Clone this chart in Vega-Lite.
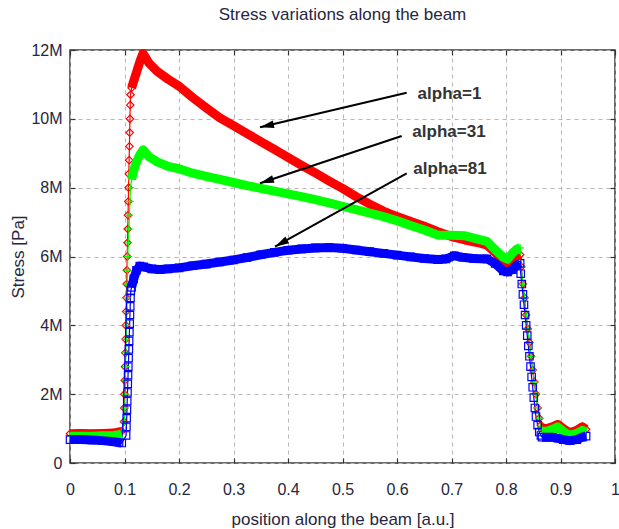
{
  "$schema": "https://vega.github.io/schema/vega-lite/v6.json",
  "width": 545,
  "height": 413,
  "autosize": {"type": "none"},
  "padding": {"left": 70, "top": 50, "right": 4, "bottom": 66},
  "title": {"text": "Stress variations along the beam", "fontSize": 17, "fontWeight": "normal", "color": "#262640", "font": "Liberation Sans", "offset": 18},
  "datasets": {
    "series": [
      {"s":"alpha=1","x":0,"y":850000},{"s":"alpha=1","x":0.02,"y":860000},{"s":"alpha=1","x":0.04,"y":850000},{"s":"alpha=1","x":0.06,"y":860000},{"s":"alpha=1","x":0.08,"y":870000},{"s":"alpha=1","x":0.09,"y":900000},{"s":"alpha=1","x":0.095,"y":920000},
      {"s":"alpha=1","x":0.099,"y":1200000},{"s":"alpha=1","x":0.0995,"y":1600000},{"s":"alpha=1","x":0.1,"y":2000000},{"s":"alpha=1","x":0.1005,"y":2400000},{"s":"alpha=1","x":0.101,"y":2800000},{"s":"alpha=1","x":0.1015,"y":3200000},{"s":"alpha=1","x":0.102,"y":3600000},{"s":"alpha=1","x":0.1025,"y":4000000},{"s":"alpha=1","x":0.103,"y":4400000},{"s":"alpha=1","x":0.1035,"y":4800000},{"s":"alpha=1","x":0.104,"y":5200000},{"s":"alpha=1","x":0.1045,"y":5600000},{"s":"alpha=1","x":0.105,"y":6000000},{"s":"alpha=1","x":0.1055,"y":6400000},{"s":"alpha=1","x":0.106,"y":6800000},{"s":"alpha=1","x":0.1065,"y":7200000},{"s":"alpha=1","x":0.107,"y":7600000},{"s":"alpha=1","x":0.1075,"y":8000000},{"s":"alpha=1","x":0.108,"y":8400000},{"s":"alpha=1","x":0.1085,"y":8800000},{"s":"alpha=1","x":0.109,"y":9200000},{"s":"alpha=1","x":0.1095,"y":9600000},{"s":"alpha=1","x":0.11,"y":10000000},{"s":"alpha=1","x":0.1105,"y":10400000},{"s":"alpha=1","x":0.111,"y":10700000},
      {"s":"alpha=1","x":0.113,"y":10900000},{"s":"alpha=1","x":0.117,"y":11100000},{"s":"alpha=1","x":0.121,"y":11300000},{"s":"alpha=1","x":0.125,"y":11500000},{"s":"alpha=1","x":0.129,"y":11700000},{"s":"alpha=1","x":0.134,"y":11900000},{"s":"alpha=1","x":0.145,"y":11620000},{"s":"alpha=1","x":0.16,"y":11380000},{"s":"alpha=1","x":0.18,"y":11150000},{"s":"alpha=1","x":0.2,"y":10950000},{"s":"alpha=1","x":0.225,"y":10620000},{"s":"alpha=1","x":0.25,"y":10320000},{"s":"alpha=1","x":0.275,"y":10030000},{"s":"alpha=1","x":0.3,"y":9800000},{"s":"alpha=1","x":0.325,"y":9570000},{"s":"alpha=1","x":0.35,"y":9340000},{"s":"alpha=1","x":0.375,"y":9110000},{"s":"alpha=1","x":0.4,"y":8880000},{"s":"alpha=1","x":0.425,"y":8650000},{"s":"alpha=1","x":0.45,"y":8430000},{"s":"alpha=1","x":0.475,"y":8200000},{"s":"alpha=1","x":0.5,"y":7980000},{"s":"alpha=1","x":0.525,"y":7740000},{"s":"alpha=1","x":0.55,"y":7520000},{"s":"alpha=1","x":0.575,"y":7320000},{"s":"alpha=1","x":0.6,"y":7160000},{"s":"alpha=1","x":0.625,"y":7020000},{"s":"alpha=1","x":0.65,"y":6880000},{"s":"alpha=1","x":0.675,"y":6720000},{"s":"alpha=1","x":0.7,"y":6580000},{"s":"alpha=1","x":0.725,"y":6480000},{"s":"alpha=1","x":0.75,"y":6400000},{"s":"alpha=1","x":0.765,"y":6330000},{"s":"alpha=1","x":0.78,"y":6120000},{"s":"alpha=1","x":0.795,"y":5850000},{"s":"alpha=1","x":0.803,"y":5720000},{"s":"alpha=1","x":0.812,"y":5860000},{"s":"alpha=1","x":0.82,"y":6000000},{"s":"alpha=1","x":0.826,"y":6050000},
      {"s":"alpha=1","x":0.828,"y":5700000},{"s":"alpha=1","x":0.831,"y":5200000},{"s":"alpha=1","x":0.834,"y":4800000},{"s":"alpha=1","x":0.837,"y":4300000},{"s":"alpha=1","x":0.84,"y":3900000},{"s":"alpha=1","x":0.843,"y":3500000},{"s":"alpha=1","x":0.846,"y":3100000},{"s":"alpha=1","x":0.849,"y":2700000},{"s":"alpha=1","x":0.852,"y":2350000},{"s":"alpha=1","x":0.855,"y":2000000},{"s":"alpha=1","x":0.858,"y":1600000},{"s":"alpha=1","x":0.861,"y":1300000},{"s":"alpha=1","x":0.864,"y":1100000},
      {"s":"alpha=1","x":0.866,"y":1020000},{"s":"alpha=1","x":0.875,"y":1000000},{"s":"alpha=1","x":0.885,"y":1050000},{"s":"alpha=1","x":0.895,"y":1120000},{"s":"alpha=1","x":0.905,"y":1000000},{"s":"alpha=1","x":0.917,"y":880000},{"s":"alpha=1","x":0.93,"y":950000},{"s":"alpha=1","x":0.94,"y":1050000},{"s":"alpha=1","x":0.947,"y":980000},

      {"s":"alpha=31","x":0,"y":780000},{"s":"alpha=31","x":0.02,"y":780000},{"s":"alpha=31","x":0.04,"y":780000},{"s":"alpha=31","x":0.06,"y":790000},{"s":"alpha=31","x":0.08,"y":800000},{"s":"alpha=31","x":0.09,"y":820000},{"s":"alpha=31","x":0.095,"y":850000},
      {"s":"alpha=31","x":0.1,"y":1200000},{"s":"alpha=31","x":0.1005,"y":1600000},{"s":"alpha=31","x":0.101,"y":2000000},{"s":"alpha=31","x":0.1015,"y":2400000},{"s":"alpha=31","x":0.102,"y":2800000},{"s":"alpha=31","x":0.1025,"y":3200000},{"s":"alpha=31","x":0.103,"y":3600000},{"s":"alpha=31","x":0.1035,"y":4000000},{"s":"alpha=31","x":0.104,"y":4400000},{"s":"alpha=31","x":0.1045,"y":4800000},{"s":"alpha=31","x":0.105,"y":5200000},{"s":"alpha=31","x":0.1055,"y":5600000},{"s":"alpha=31","x":0.106,"y":6000000},{"s":"alpha=31","x":0.107,"y":6400000},{"s":"alpha=31","x":0.108,"y":6800000},{"s":"alpha=31","x":0.109,"y":7200000},{"s":"alpha=31","x":0.11,"y":7600000},{"s":"alpha=31","x":0.111,"y":8000000},
      {"s":"alpha=31","x":0.113,"y":8250000},{"s":"alpha=31","x":0.117,"y":8500000},{"s":"alpha=31","x":0.122,"y":8750000},{"s":"alpha=31","x":0.128,"y":8950000},{"s":"alpha=31","x":0.134,"y":9100000},{"s":"alpha=31","x":0.145,"y":8900000},{"s":"alpha=31","x":0.16,"y":8750000},{"s":"alpha=31","x":0.18,"y":8620000},{"s":"alpha=31","x":0.2,"y":8550000},{"s":"alpha=31","x":0.225,"y":8420000},{"s":"alpha=31","x":0.25,"y":8330000},{"s":"alpha=31","x":0.275,"y":8240000},{"s":"alpha=31","x":0.3,"y":8150000},{"s":"alpha=31","x":0.325,"y":8060000},{"s":"alpha=31","x":0.35,"y":7980000},{"s":"alpha=31","x":0.375,"y":7900000},{"s":"alpha=31","x":0.4,"y":7820000},{"s":"alpha=31","x":0.425,"y":7740000},{"s":"alpha=31","x":0.45,"y":7650000},{"s":"alpha=31","x":0.475,"y":7560000},{"s":"alpha=31","x":0.5,"y":7460000},{"s":"alpha=31","x":0.525,"y":7360000},{"s":"alpha=31","x":0.55,"y":7260000},{"s":"alpha=31","x":0.575,"y":7160000},{"s":"alpha=31","x":0.6,"y":7040000},{"s":"alpha=31","x":0.625,"y":6900000},{"s":"alpha=31","x":0.65,"y":6770000},{"s":"alpha=31","x":0.675,"y":6620000},{"s":"alpha=31","x":0.7,"y":6620000},{"s":"alpha=31","x":0.725,"y":6600000},{"s":"alpha=31","x":0.75,"y":6500000},{"s":"alpha=31","x":0.765,"y":6440000},{"s":"alpha=31","x":0.78,"y":6200000},{"s":"alpha=31","x":0.795,"y":5980000},{"s":"alpha=31","x":0.803,"y":5920000},{"s":"alpha=31","x":0.812,"y":6100000},{"s":"alpha=31","x":0.82,"y":6220000},{"s":"alpha=31","x":0.826,"y":6250000},
      {"s":"alpha=31","x":0.828,"y":5700000},{"s":"alpha=31","x":0.831,"y":5200000},{"s":"alpha=31","x":0.834,"y":4800000},{"s":"alpha=31","x":0.837,"y":4300000},{"s":"alpha=31","x":0.84,"y":3900000},{"s":"alpha=31","x":0.843,"y":3500000},{"s":"alpha=31","x":0.846,"y":3100000},{"s":"alpha=31","x":0.849,"y":2700000},{"s":"alpha=31","x":0.852,"y":2350000},{"s":"alpha=31","x":0.855,"y":2000000},{"s":"alpha=31","x":0.858,"y":1600000},{"s":"alpha=31","x":0.861,"y":1300000},{"s":"alpha=31","x":0.864,"y":1050000},
      {"s":"alpha=31","x":0.866,"y":920000},{"s":"alpha=31","x":0.875,"y":920000},{"s":"alpha=31","x":0.885,"y":980000},{"s":"alpha=31","x":0.895,"y":1050000},{"s":"alpha=31","x":0.905,"y":920000},{"s":"alpha=31","x":0.917,"y":800000},{"s":"alpha=31","x":0.93,"y":860000},{"s":"alpha=31","x":0.94,"y":950000},{"s":"alpha=31","x":0.947,"y":900000},

      {"s":"alpha=81","x":0,"y":680000},{"s":"alpha=81","x":0.02,"y":680000},{"s":"alpha=81","x":0.04,"y":670000},{"s":"alpha=81","x":0.06,"y":650000},{"s":"alpha=81","x":0.08,"y":620000},{"s":"alpha=81","x":0.09,"y":600000},{"s":"alpha=81","x":0.095,"y":580000},
      {"s":"alpha=81","x":0.103,"y":800000},{"s":"alpha=81","x":0.1035,"y":1050000},{"s":"alpha=81","x":0.104,"y":1300000},{"s":"alpha=81","x":0.1045,"y":1550000},{"s":"alpha=81","x":0.105,"y":1800000},{"s":"alpha=81","x":0.1055,"y":2050000},{"s":"alpha=81","x":0.106,"y":2300000},{"s":"alpha=81","x":0.1065,"y":2550000},{"s":"alpha=81","x":0.107,"y":2800000},{"s":"alpha=81","x":0.1075,"y":3050000},{"s":"alpha=81","x":0.108,"y":3300000},{"s":"alpha=81","x":0.1085,"y":3550000},{"s":"alpha=81","x":0.109,"y":3800000},{"s":"alpha=81","x":0.1095,"y":4050000},{"s":"alpha=81","x":0.11,"y":4300000},{"s":"alpha=81","x":0.1105,"y":4550000},{"s":"alpha=81","x":0.111,"y":4800000},{"s":"alpha=81","x":0.1115,"y":5000000},
      {"s":"alpha=81","x":0.113,"y":5100000},{"s":"alpha=81","x":0.117,"y":5350000},{"s":"alpha=81","x":0.122,"y":5600000},{"s":"alpha=81","x":0.128,"y":5720000},{"s":"alpha=81","x":0.135,"y":5700000},{"s":"alpha=81","x":0.15,"y":5640000},{"s":"alpha=81","x":0.165,"y":5620000},{"s":"alpha=81","x":0.18,"y":5640000},{"s":"alpha=81","x":0.2,"y":5670000},{"s":"alpha=81","x":0.225,"y":5730000},{"s":"alpha=81","x":0.25,"y":5780000},{"s":"alpha=81","x":0.275,"y":5840000},{"s":"alpha=81","x":0.3,"y":5900000},{"s":"alpha=81","x":0.325,"y":5970000},{"s":"alpha=81","x":0.35,"y":6050000},{"s":"alpha=81","x":0.375,"y":6120000},{"s":"alpha=81","x":0.4,"y":6180000},{"s":"alpha=81","x":0.425,"y":6220000},{"s":"alpha=81","x":0.45,"y":6250000},{"s":"alpha=81","x":0.475,"y":6260000},{"s":"alpha=81","x":0.5,"y":6240000},{"s":"alpha=81","x":0.525,"y":6190000},{"s":"alpha=81","x":0.55,"y":6140000},{"s":"alpha=81","x":0.575,"y":6090000},{"s":"alpha=81","x":0.6,"y":6040000},{"s":"alpha=81","x":0.625,"y":5990000},{"s":"alpha=81","x":0.65,"y":5940000},{"s":"alpha=81","x":0.675,"y":5910000},{"s":"alpha=81","x":0.69,"y":5930000},{"s":"alpha=81","x":0.705,"y":6020000},{"s":"alpha=81","x":0.72,"y":5980000},{"s":"alpha=81","x":0.74,"y":5940000},{"s":"alpha=81","x":0.765,"y":5930000},{"s":"alpha=81","x":0.78,"y":5800000},{"s":"alpha=81","x":0.795,"y":5580000},{"s":"alpha=81","x":0.803,"y":5550000},{"s":"alpha=81","x":0.812,"y":5620000},{"s":"alpha=81","x":0.82,"y":5750000},{"s":"alpha=81","x":0.826,"y":5800000},
      {"s":"alpha=81","x":0.827,"y":5500000},{"s":"alpha=81","x":0.829,"y":5200000},{"s":"alpha=81","x":0.831,"y":4900000},{"s":"alpha=81","x":0.833,"y":4600000},{"s":"alpha=81","x":0.835,"y":4300000},{"s":"alpha=81","x":0.837,"y":4000000},{"s":"alpha=81","x":0.839,"y":3700000},{"s":"alpha=81","x":0.841,"y":3400000},{"s":"alpha=81","x":0.843,"y":3100000},{"s":"alpha=81","x":0.845,"y":2800000},{"s":"alpha=81","x":0.847,"y":2500000},{"s":"alpha=81","x":0.849,"y":2200000},{"s":"alpha=81","x":0.851,"y":1900000},{"s":"alpha=81","x":0.853,"y":1600000},{"s":"alpha=81","x":0.855,"y":1350000},{"s":"alpha=81","x":0.858,"y":1100000},{"s":"alpha=81","x":0.861,"y":900000},{"s":"alpha=81","x":0.864,"y":800000},
      {"s":"alpha=81","x":0.866,"y":750000},{"s":"alpha=81","x":0.875,"y":750000},{"s":"alpha=81","x":0.885,"y":750000},{"s":"alpha=81","x":0.895,"y":720000},{"s":"alpha=81","x":0.905,"y":680000},{"s":"alpha=81","x":0.917,"y":650000},{"s":"alpha=81","x":0.93,"y":680000},{"s":"alpha=81","x":0.94,"y":750000},{"s":"alpha=81","x":0.947,"y":780000}
    ],
    "arrows": [
      {"label":"alpha=1","x":0.6178,"y":10760000,"x2":0.3486,"y2":9754000},
      {"label":"alpha=31","x":0.6086,"y":9500000,"x2":0.3486,"y2":8127000},
      {"label":"alpha=81","x":0.6178,"y":8417000,"x2":0.3761,"y2":6285000}
    ],
    "labels": [
      {"text":"alpha=1","x":0.6963,"y":10720000},
      {"text":"alpha=31","x":0.6954,"y":9620000},
      {"text":"alpha=81","x":0.6972,"y":8540000}
    ]
  },
  "layer": [
    {
      "data": {"name": "series"},
      "mark": {"type": "line", "strokeWidth": 1.2},
      "encoding": {
        "x": {"field": "x", "type": "quantitative", "scale": {"domain": [0, 1], "nice": false, "zero": false},
              "axis": {"orient": "bottom", "title": "position along the beam [a.u.]", "values": [0,0.1,0.2,0.3,0.4,0.5,0.6,0.7,0.8,0.9,1], "format": "~g", "grid": true, "labelPadding": 23, "titlePadding": 14, "labelFlush": false}},
        "y": {"field": "y", "type": "quantitative", "scale": {"domain": [0, 12000000], "nice": false},
              "axis": {"orient": "left", "title": "Stress [Pa]", "values": [0,2000000,4000000,6000000,8000000,10000000,12000000], "labelExpr": "datum.value == 0 ? '0' : format(datum.value, '~s')", "grid": true, "labelPadding": 13, "titlePadding": 3}},
        "color": {"field": "s", "type": "nominal", "scale": {"domain": ["alpha=1","alpha=31","alpha=81"], "range": ["#ff0000","#00ff00","#0000ff"]}, "legend": null}
      }
    },
    {
      "data": {"name": "series"},
      "mark": {"type": "point", "filled": false, "size": 55, "strokeWidth": 1.2, "opacity": 1},
      "encoding": {
        "x": {"field": "x", "type": "quantitative", "scale": {"domain": [0, 1], "nice": false, "zero": false},
              "axis": {"orient": "top", "title": null, "labels": false, "grid": false, "values": [0,0.1,0.2,0.3,0.4,0.5,0.6,0.7,0.8,0.9,1]}},
        "y": {"field": "y", "type": "quantitative", "scale": {"domain": [0, 12000000], "nice": false},
              "axis": {"orient": "right", "title": null, "labels": false, "grid": false, "values": [0,2000000,4000000,6000000,8000000,10000000,12000000]}},
        "color": {"field": "s", "type": "nominal", "scale": {"domain": ["alpha=1","alpha=31","alpha=81"], "range": ["#ff0000","#00ff00","#0000ff"]}, "legend": null},
        "shape": {"field": "s", "type": "nominal", "scale": {"domain": ["alpha=1","alpha=31","alpha=81"], "range": ["diamond","M-1,0L1,0M0,-1L0,1","square"]}, "legend": null}
      }
    },
    {
      "data": {"name": "series"},
      "transform": [{"filter": "datum.x <= 0.0955"}],
      "mark": {"type": "line", "strokeWidth": 9, "strokeJoin": "round"},
      "encoding": {
        "x": {"field": "x", "type": "quantitative", "scale": {"domain": [0, 1], "nice": false, "zero": false}, "axis": null},
        "y": {"field": "y", "type": "quantitative", "scale": {"domain": [0, 12000000], "nice": false}, "axis": null},
        "color": {"field": "s", "type": "nominal", "scale": {"domain": ["alpha=1","alpha=31","alpha=81"], "range": ["#ff0000","#00ff00","#0000ff"]}, "legend": null}
      }
    },
    {
      "data": {"name": "series"},
      "transform": [{"filter": "datum.x >= 0.112 && datum.x <= 0.8265"}],
      "mark": {"type": "line", "strokeWidth": 9, "strokeJoin": "round"},
      "encoding": {
        "x": {"field": "x", "type": "quantitative", "scale": {"domain": [0, 1], "nice": false, "zero": false}, "axis": null},
        "y": {"field": "y", "type": "quantitative", "scale": {"domain": [0, 12000000], "nice": false}, "axis": null},
        "color": {"field": "s", "type": "nominal", "scale": {"domain": ["alpha=1","alpha=31","alpha=81"], "range": ["#ff0000","#00ff00","#0000ff"]}, "legend": null}
      }
    },
    {
      "data": {"name": "series"},
      "transform": [{"filter": "datum.x >= 0.8655"}],
      "mark": {"type": "line", "strokeWidth": 9, "strokeJoin": "round"},
      "encoding": {
        "x": {"field": "x", "type": "quantitative", "scale": {"domain": [0, 1], "nice": false, "zero": false}, "axis": null},
        "y": {"field": "y", "type": "quantitative", "scale": {"domain": [0, 12000000], "nice": false}, "axis": null},
        "color": {"field": "s", "type": "nominal", "scale": {"domain": ["alpha=1","alpha=31","alpha=81"], "range": ["#ff0000","#00ff00","#0000ff"]}, "legend": null}
      }
    },
    {
      "data": {"name": "arrows"},
      "mark": {"type": "rule", "color": "#000000", "strokeWidth": 2},
      "encoding": {
        "x": {"field": "x", "type": "quantitative", "scale": {"domain": [0, 1], "nice": false, "zero": false}, "axis": null},
        "y": {"field": "y", "type": "quantitative", "scale": {"domain": [0, 12000000], "nice": false}, "axis": null},
        "x2": {"field": "x2"},
        "y2": {"field": "y2"}
      }
    },
    {
      "data": {"name": "arrows"},
      "transform": [{"filter": "datum.label == 'alpha=1'"}],
      "mark": {"type": "point", "shape": "M0,0L0.55,2L-0.55,2Z", "size": 196, "filled": true, "color": "#000000", "opacity": 1, "angle": 257},
      "encoding": {
        "x": {"field": "x2", "type": "quantitative", "scale": {"domain": [0, 1], "nice": false, "zero": false}, "axis": null},
        "y": {"field": "y2", "type": "quantitative", "scale": {"domain": [0, 12000000], "nice": false}, "axis": null}
      }
    },
    {
      "data": {"name": "arrows"},
      "transform": [{"filter": "datum.label == 'alpha=31'"}],
      "mark": {"type": "point", "shape": "M0,0L0.55,2L-0.55,2Z", "size": 196, "filled": true, "color": "#000000", "opacity": 1, "angle": 252},
      "encoding": {
        "x": {"field": "x2", "type": "quantitative", "scale": {"domain": [0, 1], "nice": false, "zero": false}, "axis": null},
        "y": {"field": "y2", "type": "quantitative", "scale": {"domain": [0, 12000000], "nice": false}, "axis": null}
      }
    },
    {
      "data": {"name": "arrows"},
      "transform": [{"filter": "datum.label == 'alpha=81'"}],
      "mark": {"type": "point", "shape": "M0,0L0.55,2L-0.55,2Z", "size": 196, "filled": true, "color": "#000000", "opacity": 1, "angle": 241},
      "encoding": {
        "x": {"field": "x2", "type": "quantitative", "scale": {"domain": [0, 1], "nice": false, "zero": false}, "axis": null},
        "y": {"field": "y2", "type": "quantitative", "scale": {"domain": [0, 12000000], "nice": false}, "axis": null}
      }
    },
    {
      "data": {"name": "labels"},
      "mark": {"type": "text", "font": "Liberation Sans", "fontSize": 17, "fontWeight": "bold", "color": "#333333", "align": "center", "baseline": "middle"},
      "encoding": {
        "x": {"field": "x", "type": "quantitative", "scale": {"domain": [0, 1], "nice": false, "zero": false}, "axis": null},
        "y": {"field": "y", "type": "quantitative", "scale": {"domain": [0, 12000000], "nice": false}, "axis": null},
        "text": {"field": "text"}
      }
    }
  ],
  "resolve": {"axis": {"x": "independent", "y": "independent"}},
  "config": {
    "font": "Liberation Sans",
    "background": "#ffffff",
    "view": {"stroke": "#3a3a3a", "strokeWidth": 1.5},
    "axis": {
      "labelFont": "Liberation Sans", "labelFontSize": 16, "labelColor": "#262640",
      "titleFont": "Liberation Sans", "titleFontSize": 17, "titleFontWeight": "normal", "titleColor": "#262640",
      "gridColor": "#b4b4b4", "gridDash": [4, 4], "gridWidth": 1,
      "domain": false, "tickColor": "#333333", "tickSize": -5, "tickWidth": 1.2
    }
  }
}
